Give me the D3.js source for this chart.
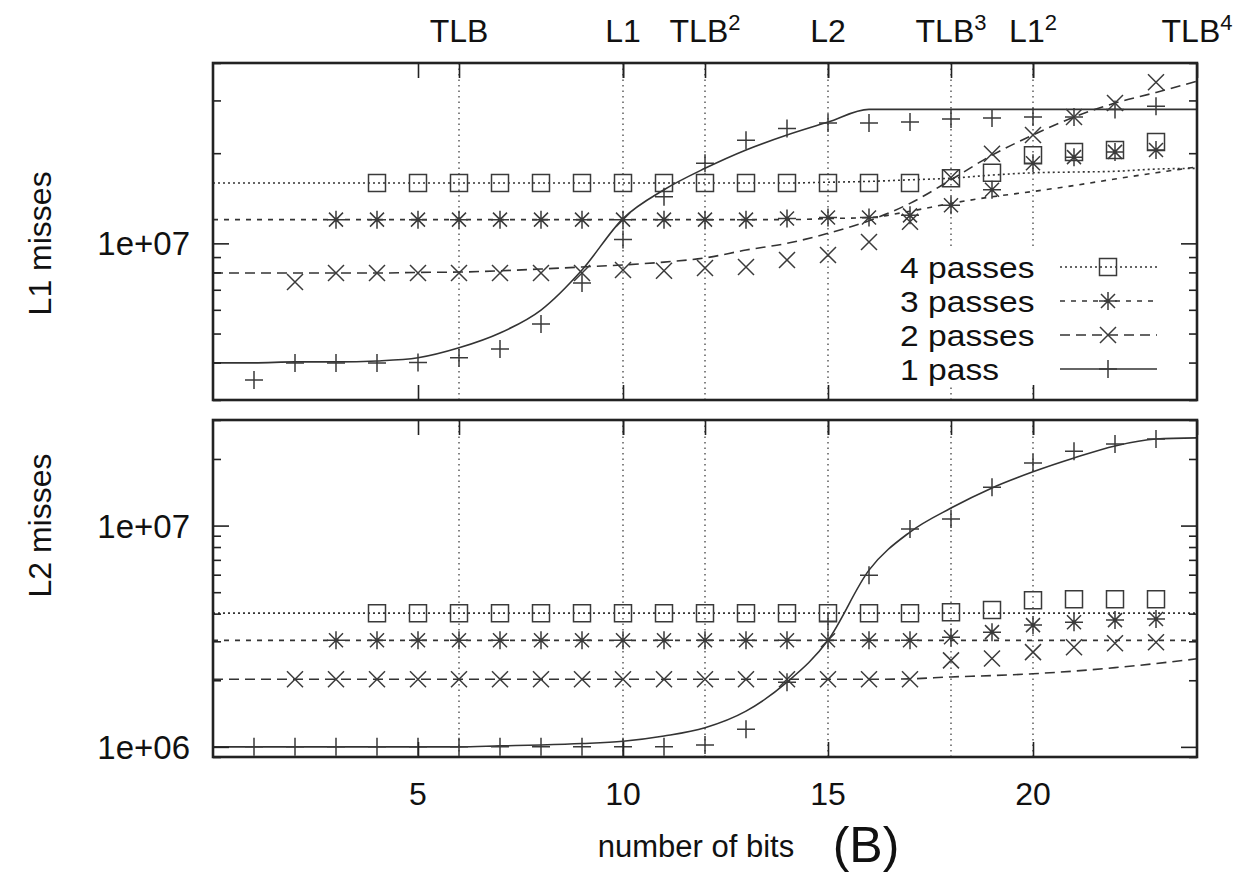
<!DOCTYPE html>
<html>
<head>
<meta charset="utf-8">
<script src="https://cdn.jsdelivr.net/npm/d3@7"></script>
<style>
body { margin: 0; background: #fff; }
svg { display: block; }
text { font-family: "Liberation Sans", Arial, Helvetica, sans-serif; fill: #111; }
</style>
</head>
<body>
<script>
// number of radix bits on the x axis
var bits = [0, 1, 2, 3, 4, 5, 6, 7, 8, 9, 10, 11, 12, 13, 14, 15, 16, 17, 18, 19, 20, 21, 22, 23, 24];

// L1 misses, measured (null = not measured)
var l1Pass4 = [null, null, null, null, 1.59e7, 1.59e7, 1.59e7, 1.59e7, 1.59e7, 1.59e7, 1.59e7, 1.59e7, 1.59e7,
  1.59e7, 1.59e7, 1.59e7, 1.59e7, 1.59e7, 1.65e7, 1.72e7, 1.97e7, 2.02e7, 2.05e7, 2.18e7, null];
var l1Pass3 = [null, null, null, 1.20e7, 1.20e7, 1.20e7, 1.20e7, 1.20e7, 1.20e7, 1.20e7, 1.20e7, 1.20e7, 1.20e7,
  1.20e7, 1.21e7, 1.22e7, 1.22e7, 1.24e7, 1.34e7, 1.51e7, 1.85e7, 1.94e7, 2.02e7, 2.05e7, null];
var l1Pass2 = [null, null, 7.43e6, 7.96e6, 7.96e6, 7.96e6, 7.96e6, 7.96e6, 7.96e6, 7.96e6, 8.15e6, 8.10e6, 8.27e6,
  8.34e6, 8.80e6, 9.14e6, 1.01e7, 1.18e7, 1.66e7, 1.99e7, 2.30e7, 2.64e7, 2.94e7, 3.45e7, null];
var l1Pass1 = [null, 3.50e6, 3.99e6, 3.99e6, 3.99e6, 4.00e6, 4.15e6, 4.44e6, 5.38e6, 7.37e6, 1.03e7, 1.43e7, 1.85e7,
  2.21e7, 2.42e7, 2.52e7, 2.52e7, 2.54e7, 2.60e7, 2.62e7, 2.64e7, 2.64e7, 2.80e7, 2.87e7, null];

// L1 misses, model curves
var l1Fit4 = [1.59e7, 1.59e7, 1.59e7, 1.59e7, 1.59e7, 1.59e7, 1.59e7, 1.59e7, 1.59e7, 1.59e7, 1.59e7, 1.59e7, 1.59e7,
  1.59e7, 1.59e7, 1.60e7, 1.61e7, 1.63e7, 1.65e7, 1.69e7, 1.72e7, 1.73e7, 1.74e7, 1.77e7, 1.78e7];
var l1Fit3 = [1.20e7, 1.20e7, 1.20e7, 1.20e7, 1.20e7, 1.20e7, 1.20e7, 1.20e7, 1.20e7, 1.20e7, 1.20e7, 1.20e7, 1.20e7,
  1.20e7, 1.20e7, 1.21e7, 1.22e7, 1.28e7, 1.36e7, 1.43e7, 1.49e7, 1.56e7, 1.64e7, 1.72e7, 1.80e7];
var l1Fit2 = [7.96e6, 7.96e6, 7.96e6, 7.96e6, 7.96e6, 8.00e6, 8.02e6, 8.10e6, 8.21e6, 8.34e6, 8.47e6, 8.66e6, 8.94e6,
  9.50e6, 1.00e7, 1.08e7, 1.19e7, 1.36e7, 1.63e7, 1.97e7, 2.30e7, 2.64e7, 2.94e7, 3.19e7, 3.48e7];
var l1Fit1 = [3.99e6, 3.99e6, 4.02e6, 4.02e6, 4.05e6, 4.15e6, 4.48e6, 5.02e6, 5.99e6, 8.15e6, 1.21e7, 1.51e7, 1.78e7,
  2.05e7, 2.30e7, 2.54e7, 2.80e7, 2.80e7, 2.80e7, 2.80e7, 2.80e7, 2.80e7, 2.80e7, 2.80e7, 2.80e7];

// L2 misses, measured
var l2Pass4 = [null, null, null, null, 4.02e6, 4.02e6, 4.02e6, 4.02e6, 4.02e6, 4.02e6, 4.02e6, 4.02e6, 4.02e6,
  4.02e6, 4.02e6, 4.02e6, 4.02e6, 4.02e6, 4.06e6, 4.15e6, 4.60e6, 4.65e6, 4.65e6, 4.65e6, null];
var l2Pass3 = [null, null, null, 3.03e6, 3.03e6, 3.03e6, 3.03e6, 3.03e6, 3.03e6, 3.03e6, 3.03e6, 3.03e6, 3.03e6,
  3.03e6, 3.03e6, 3.03e6, 3.03e6, 3.03e6, 3.13e6, 3.30e6, 3.55e6, 3.66e6, 3.74e6, 3.78e6, null];
var l2Pass2 = [null, null, 2.02e6, 2.02e6, 2.02e6, 2.02e6, 2.02e6, 2.02e6, 2.02e6, 2.02e6, 2.02e6, 2.02e6, 2.02e6,
  2.02e6, 2.02e6, 2.02e6, 2.02e6, 2.02e6, 2.46e6, 2.51e6, 2.68e6, 2.82e6, 2.94e6, 2.97e6, null];
var l2Pass1 = [null, 1.0e6, 1.0e6, 1.0e6, 1.0e6, 1.0e6, 1.0e6, 1.0e6, 1.0e6, 1.0e6, 1.0e6, 1.0e6, 1.02e6,
  1.20e6, 1.96e6, 3.70e6, 5.97e6, 9.64e6, 1.07e7, 1.49e7, 1.92e7, 2.17e7, 2.34e7, 2.46e7, null];

// L2 misses, model curves
var l2Fit4 = [4.02e6, 4.02e6, 4.02e6, 4.02e6, 4.02e6, 4.02e6, 4.02e6, 4.02e6, 4.02e6, 4.02e6, 4.02e6, 4.02e6, 4.02e6,
  4.02e6, 4.02e6, 4.02e6, 4.02e6, 4.02e6, 4.02e6, 4.02e6, 4.02e6, 4.02e6, 4.02e6, 4.02e6, 4.02e6];
var l2Fit3 = [3.03e6, 3.03e6, 3.03e6, 3.03e6, 3.03e6, 3.03e6, 3.03e6, 3.03e6, 3.03e6, 3.03e6, 3.03e6, 3.03e6, 3.03e6,
  3.03e6, 3.03e6, 3.03e6, 3.03e6, 3.03e6, 3.03e6, 3.03e6, 3.03e6, 3.03e6, 3.03e6, 3.03e6, 3.03e6];
var l2Fit2 = [2.02e6, 2.02e6, 2.02e6, 2.02e6, 2.02e6, 2.02e6, 2.02e6, 2.02e6, 2.02e6, 2.02e6, 2.02e6, 2.02e6, 2.02e6,
  2.02e6, 2.02e6, 2.02e6, 2.02e6, 2.03e6, 2.07e6, 2.10e6, 2.14e6, 2.20e6, 2.28e6, 2.38e6, 2.50e6];
var l2Fit1 = [1.0e6, 1.0e6, 1.0e6, 1.0e6, 1.0e6, 1.0e6, 1.0e6, 1.01e6, 1.02e6, 1.035e6, 1.06e6, 1.12e6, 1.22e6,
  1.45e6, 1.96e6, 3.03e6, 6.29e6, 9.35e6, 1.20e7, 1.48e7, 1.75e7, 2.02e7, 2.29e7, 2.46e7, 2.49e7];

var seriesNames = ["4 passes", "3 passes", "2 passes", "1 pass"];

var xTicks = [5, 10, 15, 20];
var xTickLabels = ["5", "10", "15", "20"];

// cache / TLB thresholds on the top axis
var cacheTicks = [6, 10, 12, 15, 18, 20, 24];
var cacheNames = ["TLB", "L1", "TLB", "L2", "TLB", "L1", "TLB"];
var cachePowers = ["", "", "2", "", "3", "2", "4"];

var l1YTicks = [1e7];
var l1YLabels = ["1e+07"];
var l2YTicks = [1e6, 1e7];
var l2YLabels = ["1e+06", "1e+07"];

var left = 213, right = 1197;
var dashes = ["2,3", "5,6", "10,6", null];
var markers = ["square", "star", "cross", "plus"];
var ink = "#222";

var svg = d3.select("body")
    .append("svg")
    .attr("width", 1240)
    .attr("height", 875);

var x = d3.scaleLinear()
    .domain([0, 24])
    .range([left, right]);

function markerPath(type) {
    if (type == "square") return "M-8.5,-8.5H8.5V8.5H-8.5Z";
    if (type == "plus") return "M-9,0H9M0,-9V9";
    if (type == "cross") return "M-8,-8L8,8M-8,8L8,-8";
    return "M-9,0H9M0,-9V9M-7,-7L7,7M-7,7L7,-7"; // asterisk
}

var panels = [
    {top: 63, bottom: 400, domain: [3e6, 4e7], title: "L1 misses",
     points: [l1Pass4, l1Pass3, l1Pass2, l1Pass1], fits: [l1Fit4, l1Fit3, l1Fit2, l1Fit1],
     yTicks: l1YTicks, yLabels: l1YLabels, legend: true},
    {top: 420, bottom: 757, domain: [9e5, 3e7], title: "L2 misses",
     points: [l2Pass4, l2Pass3, l2Pass2, l2Pass1], fits: [l2Fit4, l2Fit3, l2Fit2, l2Fit1],
     yTicks: l2YTicks, yLabels: l2YLabels, legend: false}
];

panels.forEach(function(p, pi) {
    var y = d3.scaleLog().domain(p.domain).range([p.bottom, p.top]);
    var g = svg.append("g");

    g.append("clipPath").attr("id", "clip" + pi)
        .append("rect")
        .attr("x", left).attr("y", p.top)
        .attr("width", right - left).attr("height", p.bottom - p.top);

    // dotted grid at the cache thresholds
    g.selectAll(".grid")
        .data(cacheTicks.filter(function(d) { return d < 24; }))
        .enter()
        .append("line")
        .attr("x1", function(d) { return x(d); })
        .attr("x2", function(d) { return x(d); })
        .attr("y1", p.top)
        .attr("y2", p.bottom)
        .attr("stroke", "#333")
        .attr("stroke-width", 1.2)
        .attr("stroke-dasharray", "1.5,4");

    if (p.legend) {
        g.append("rect")
            .attr("x", 885).attr("y", 249)
            .attr("width", 290).attr("height", 137)
            .attr("fill", "#fff");
    }

    var plot = g.append("g").attr("clip-path", "url(#clip" + pi + ")");

    // model curves
    p.fits.forEach(function(f, i) {
        var line = d3.line()
            .x(function(d, j) { return x(bits[j]); })
            .y(function(d) { return y(d); })
            .curve(d3.curveMonotoneX);
        plot.append("path")
            .attr("d", line(f))
            .attr("fill", "none")
            .attr("stroke", "#333")
            .attr("stroke-width", 1.6)
            .attr("stroke-dasharray", dashes[i]);
    });

    // measured points
    p.points.forEach(function(s, i) {
        plot.selectAll(".m" + i)
            .data(s.map(function(v, j) { return [bits[j], v]; })
                   .filter(function(d) { return d[1] != null; }))
            .enter()
            .append("path")
            .attr("transform", function(d) { return "translate(" + x(d[0]) + "," + y(d[1]) + ")"; })
            .attr("d", markerPath(markers[i]))
            .attr("fill", "none")
            .attr("stroke", "#3a3a3a")
            .attr("stroke-width", 1.5);
    });

    // legend (text widened a bit, like the scanned figure)
    if (p.legend) {
        seriesNames.forEach(function(name, i) {
            var ly = 267 + i * 34;
            g.append("text")
                .attr("transform", "translate(900," + (ly + 11) + ") scale(1.12,1)")
                .attr("font-size", 30)
                .text(name);
            g.append("line")
                .attr("x1", 1060).attr("x2", 1157)
                .attr("y1", ly).attr("y2", ly)
                .attr("stroke", "#333")
                .attr("stroke-width", 1.6)
                .attr("stroke-dasharray", dashes[i]);
            g.append("path")
                .attr("transform", "translate(1108," + ly + ")")
                .attr("d", markerPath(markers[i]))
                .attr("fill", "none")
                .attr("stroke", "#3a3a3a")
                .attr("stroke-width", 1.5);
        });
    }

    // ticks, pointing into the frame
    function tickGroup(axis, tx, ty) {
        var a = g.append("g")
            .attr("transform", "translate(" + tx + "," + ty + ")")
            .call(axis);
        a.select(".domain").remove();
        a.selectAll("line").attr("stroke", ink).attr("stroke-width", 1.6);
    }
    tickGroup(d3.axisBottom(x).tickValues(xTicks).tickSize(-15).tickFormat(""), 0, p.bottom);
    tickGroup(d3.axisTop(x).tickValues(xTicks.concat(cacheTicks)).tickSize(-15).tickFormat(""), 0, p.top);

    var minor = y.ticks().filter(function(d) { return p.yTicks.indexOf(d) < 0; });
    tickGroup(d3.axisLeft(y).tickValues(minor).tickSize(-8).tickFormat(""), left, 0);
    tickGroup(d3.axisRight(y).tickValues(minor).tickSize(-8).tickFormat(""), right, 0);
    tickGroup(d3.axisLeft(y).tickValues(p.yTicks).tickSize(-16).tickFormat(""), left, 0);
    tickGroup(d3.axisRight(y).tickValues(p.yTicks).tickSize(-16).tickFormat(""), right, 0);

    // frame
    g.append("rect")
        .attr("x", left).attr("y", p.top)
        .attr("width", right - left).attr("height", p.bottom - p.top)
        .attr("fill", "none")
        .attr("stroke", ink)
        .attr("stroke-width", 2.6);

    // y tick labels
    g.selectAll(".ylab")
        .data(p.yTicks)
        .enter()
        .append("text")
        .attr("x", 190)
        .attr("y", function(d) { return y(d) + 12; })
        .attr("text-anchor", "end")
        .attr("font-size", 33)
        .text(function(d, i) { return p.yLabels[i]; });

    // y title, centred on the 1e+07 tick
    g.append("text")
        .attr("transform", "translate(51," + y(1e7) + ") rotate(-90)")
        .attr("text-anchor", "middle")
        .attr("font-size", 32)
        .text(p.title);
});

// cache labels above the top panel
var cl = svg.selectAll(".cache")
    .data(cacheTicks)
    .enter()
    .append("text")
    .attr("x", function(d) { return x(d); })
    .attr("y", 42)
    .attr("text-anchor", "middle")
    .attr("font-size", 32);
cl.append("tspan").text(function(d, i) { return cacheNames[i]; });
cl.append("tspan")
    .attr("dy", -12)
    .attr("font-size", 22)
    .text(function(d, i) { return cachePowers[i]; });

// x tick labels
svg.selectAll(".xlab")
    .data(xTicks)
    .enter()
    .append("text")
    .attr("x", function(d) { return x(d); })
    .attr("y", 805)
    .attr("text-anchor", "middle")
    .attr("font-size", 32)
    .text(function(d, i) { return xTickLabels[i]; });

svg.append("text")
    .attr("x", 696)
    .attr("y", 857)
    .attr("text-anchor", "middle")
    .attr("font-size", 31)
    .text("number of bits");

svg.append("text")
    .attr("x", 866)
    .attr("y", 862)
    .attr("text-anchor", "middle")
    .attr("font-size", 50)
    .text("(B)");
</script>
</body>
</html>
